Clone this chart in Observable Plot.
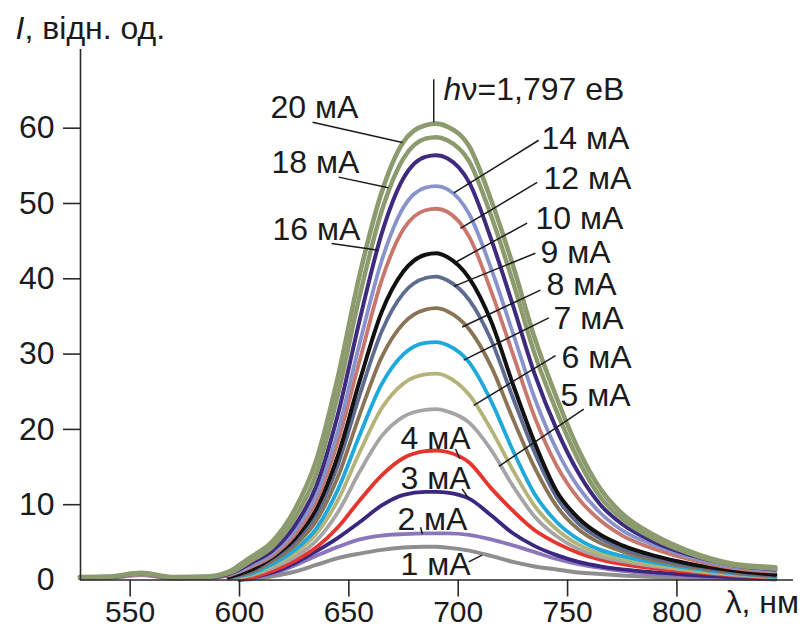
<!DOCTYPE html>
<html>
<head>
<meta charset="utf-8">
<script src="https://cdn.jsdelivr.net/npm/d3@7"></script>
<script src="https://cdn.jsdelivr.net/npm/@observablehq/plot@0.6"></script>
<style>
  html, body { margin: 0; padding: 0; background: #fff; }
  #chart svg { display: block; }
</style>
</head>
<body>
<div id="chart"></div>
<script>
// Wavelength grid, nm
const wavelength = [527, 540, 555, 570, 585, 595, 600, 605, 615, 625, 635, 645, 655, 665, 675, 685, 690, 695, 705, 715, 725, 735, 745, 755, 765, 775, 790, 805, 825, 845];

// Intensity (rel. units) for each drive current
const i20 = [0.4, 0.45, 0.95, 0.4, 0.45, 1.1, 2.0, 3.0, 5.1, 9.2, 15.8, 27.0, 40.6, 51.5, 58.2, 60.4, 60.6, 60.2, 57.6, 50.5, 41.8, 32.1, 24.2, 17.3, 12.1, 8.8, 5.9, 3.9, 2.2, 1.7];
const i18 = [0.35, 0.4, 0.9, 0.35, 0.4, 0.9, 1.6, 2.5, 4.4, 8.1, 14.0, 24.6, 37.8, 49.0, 56.0, 58.6, 58.8, 58.4, 55.6, 48.4, 39.6, 30.0, 22.4, 15.9, 11.0, 8.1, 5.4, 3.6, 2.0, 1.5];
const i16 = [0.3, 0.35, 0.85, 0.3, 0.35, 0.8, 1.4, 2.2, 3.9, 7.1, 12.4, 22.0, 34.6, 46.0, 53.4, 56.2, 56.4, 56.0, 52.8, 45.3, 36.5, 27.3, 20.0, 14.2, 10.0, 7.4, 5.0, 3.4, 2.0, 1.4];
const i14 = [0.25, 0.3, 0.75, 0.25, 0.3, 0.7, 1.2, 1.9, 3.5, 6.4, 11.2, 19.8, 31.5, 42.4, 49.5, 52.1, 52.3, 51.9, 48.6, 41.4, 32.8, 24.1, 17.3, 12.3, 8.9, 6.6, 4.6, 3.1, 1.8, 1.2];
const i12 = [0.2, 0.25, 0.65, 0.2, 0.25, 0.6, 1.1, 1.7, 3.2, 5.9, 10.4, 18.4, 29.2, 39.8, 46.6, 49.1, 49.3, 48.9, 45.6, 38.4, 30.0, 21.6, 15.2, 10.8, 7.9, 5.9, 4.1, 2.8, 1.6, 1.1];
const i10 = [null, null, null, null, null, 0.4, 0.8, 1.3, 3.0, 5.4, 9.4, 16.5, 26.5, 35.6, 41.0, 43.2, 43.4, 42.9, 40.1, 34.4, 26.0, 18.2, 11.8, 8.2, 6.0, 4.6, 3.2, 2.2, 1.3, 0.7];
const i9  = [null, null, null, null, null, 0.35, 0.7, 1.2, 2.8, 5.0, 8.7, 15.3, 24.6, 33.0, 38.1, 40.1, 40.3, 39.8, 37.2, 31.9, 24.2, 16.9, 11.0, 7.5, 5.5, 4.2, 2.9, 2.0, 1.1, 0.6];
const i8  = [null, null, null, null, null, 0.3, 0.6, 1.0, 2.5, 4.5, 7.8, 13.7, 22.0, 29.6, 34.1, 35.9, 36.1, 35.7, 33.3, 28.4, 21.4, 14.9, 9.8, 6.7, 4.9, 3.8, 2.6, 1.8, 1.0, 0.5];
const i7  = [null, null, null, null, null, 0.25, 0.5, 0.8, 2.1, 3.9, 6.8, 12.0, 19.3, 26.0, 30.0, 31.5, 31.6, 31.2, 28.9, 23.8, 17.2, 11.4, 7.7, 5.4, 4.0, 3.2, 2.3, 1.6, 0.9, 0.4];
const i6  = [null, null, null, null, null, 0.2, 0.4, 0.7, 1.9, 3.5, 6.1, 10.6, 17.0, 22.8, 26.1, 27.3, 27.4, 27.0, 24.6, 20.0, 14.6, 9.8, 6.7, 4.7, 3.5, 2.8, 2.0, 1.4, 0.8, 0.4];
const i5  = [null, null, null, null, null, 0.15, 0.3, 0.6, 1.6, 3.0, 5.2, 9.0, 14.4, 19.1, 21.7, 22.6, 22.7, 22.4, 20.9, 17.3, 12.5, 8.4, 5.8, 4.1, 3.1, 2.5, 1.8, 1.3, 0.7, 0.35];
const i4  = [null, null, null, null, null, null, 0, 0.3, 1.2, 2.5, 4.3, 7.0, 10.6, 13.9, 16.2, 17.1, 17.2, 17.0, 15.6, 12.2, 9.2, 6.6, 4.9, 3.6, 2.7, 2.1, 1.5, 1.1, 0.6, 0.3];
const i3  = [null, null, null, null, null, null, 0, 0.3, 1.0, 2.2, 3.8, 5.6, 7.7, 9.9, 11.3, 11.7, 11.7, 11.6, 10.8, 8.6, 6.2, 4.5, 3.3, 2.4, 1.8, 1.4, 1.0, 0.7, 0.4, 0.2];
const i2  = [null, null, null, null, null, null, 0, 0.25, 0.8, 1.9, 3.2, 4.4, 5.4, 5.9, 6.1, 6.2, 6.2, 6.2, 6.0, 5.4, 4.6, 3.7, 2.8, 2.1, 1.6, 1.2, 0.8, 0.5, 0.3, 0.1];
const i1  = [null, null, null, null, null, null, 0, 0.1, 0.5, 1.1, 2.0, 2.9, 3.5, 4.0, 4.3, 4.4, 4.4, 4.3, 3.9, 3.2, 2.4, 1.8, 1.4, 1.0, 0.8, 0.6, 0.4, 0.3, 0.2, 0.1];

// Drive currents, mA (drawing order: lowest first)
const currents = [1, 2, 3, 4, 5, 6, 7, 8, 9, 10, 12, 14, 16, 18, 20];
const seriesList = [i1, i2, i3, i4, i5, i6, i7, i8, i9, i10, i12, i14, i16, i18, i20];
const lineColors = ["#8e8e8e", "#8c76bb", "#3b2680", "#e5352c", "#a5a5a5", "#b4b47a", "#1ea9dc", "#8b7356", "#5d6b90", "#111111", "#c9766c", "#8893cc", "#3e2a7e", "#8c9b6e", "#8c9b6e"];
const lineWidths = [4, 3.8, 3.8, 3.8, 3.8, 3.8, 3.8, 3.8, 3.8, 4, 3.8, 3.8, 4, 4.4, 4.6];

// Labels: text anchor (wavelength, intensity) and leader line ends
const labelLambda = [673.6, 672.2, 673.6, 673.6, 746.8, 747.2, 743.6, 740.4, 737.6, 735.3, 739.0, 738.1, 615.1, 614.6, 614.2];
const labelValue  = [0.6, 6.6, 12.1, 17.4, 23.1, 28.2, 33.3, 37.8, 42.1, 46.6, 51.9, 57.3, 45.1, 54.0, 61.3];
const leaderLambda1 = [704.8, 682.8, 701.8, 698.8, 757.4, 744.5, 741.4, 737.6, 735.3, 731.5, 736.1, 736.8, 642.1, 645.3, 633.4];
const leaderValue1  = [2.4, 7.0, 12.1, 17.4, 22.7, 29.8, 34.8, 38.5, 43.4, 47.4, 52.8, 58.4, 44.7, 53.5, 60.8];
const leaderLambda2 = [710.9, 683.6, 704.8, 700.7, 718.6, 707.1, 702.5, 701.8, 698.0, 698.8, 701.0, 698.0, 663.6, 668.1, 674.5];
const leaderValue2  = [3.3, 6.1, 10.8, 16.1, 15.1, 23.2, 29.2, 33.6, 39.0, 42.2, 46.7, 51.4, 43.8, 52.1, 58.1];

// Peak marker
const peakLambda = 688.8;
const peakMarker = [60.8, 66.5];
const peakLabelLambda = 693.3;
const peakLabelValue = 63.8;

// Axes
const xTicks = [550, 600, 650, 700, 750, 800];
const yTicks = [10, 20, 30, 40, 50, 60];
const xDomain = [527.3, 853.3];
const yDomain = [0, 70.45];

const FONT = "'Liberation Sans', Arial, Helvetica, sans-serif";
const FS = 32;
const INK = "#1b1b1b";

const rows = [];
currents.forEach((c, k) => {
  seriesList[k].forEach((v, j) => {
    if (v !== null) rows.push({lambda: wavelength[j], I: v, current: c});
  });
});

const labels = currents.map((c, k) => ({
  text: c + " мА", x: labelLambda[k], y: labelValue[k],
  x1: leaderLambda1[k], y1: leaderValue1[k], x2: leaderLambda2[k], y2: leaderValue2[k]
}));

const lineMarks = currents.map((c, k) =>
  Plot.line(rows.filter(d => d.current === c), {
    x: "lambda", y: "I", stroke: lineColors[k], strokeWidth: lineWidths[k],
    curve: "monotone-x", strokeLinejoin: "round", strokeLinecap: "round"
  })
);

const chart = Plot.plot({
  width: 800,
  height: 630,
  marginLeft: 80,
  marginRight: 7,
  marginTop: 49,
  marginBottom: 50.5,
  style: {fontFamily: FONT, color: INK, background: "#fff", overflow: "visible"},
  x: {domain: xDomain},
  y: {domain: yDomain},
  marks: [
    ...lineMarks,
    Plot.ruleY([0], {stroke: "#2a2a2a", strokeWidth: 1.6}),
    Plot.ruleX([xDomain[0]], {stroke: "#2a2a2a", strokeWidth: 1.6}),
    Plot.axisX(xTicks, {tickSize: 17, tickPadding: 4, fontSize: 30, label: null, stroke: "#2a2a2a", strokeWidth: 1.6, fill: INK}),
    Plot.axisY(yTicks, {tickSize: 17, tickPadding: 9, fontSize: FS, label: null, stroke: "#2a2a2a", strokeWidth: 1.6, fill: INK}),
    Plot.axisY([0], {tickSize: 0, tickPadding: 26, fontSize: FS, label: null, fill: INK}),
    Plot.link(labels, {x1: "x1", y1: "y1", x2: "x2", y2: "y2", stroke: "#1b1b1b", strokeWidth: 1.5}),
    Plot.text(labels, {x: "x", y: "y", text: "text", textAnchor: "start", lineAnchor: "bottom", fontSize: FS, fill: INK}),
    Plot.link([peakMarker], {x1: () => peakLambda, x2: () => peakLambda, y1: d => d[0], y2: d => d[1], stroke: "#1b1b1b", strokeWidth: 1.5}),
    Plot.text(["h"], {x: () => peakLabelLambda, y: () => peakLabelValue, text: d => d, textAnchor: "start", lineAnchor: "bottom", fontSize: FS, fontStyle: "italic", fill: INK}),
    Plot.text(["ν=1,797 еВ"], {x: () => peakLabelLambda, y: () => peakLabelValue, text: d => d, dx: 18, textAnchor: "start", lineAnchor: "bottom", fontSize: FS, fill: INK}),
    Plot.text(["I"], {frameAnchor: "top-left", text: d => d, dx: -65, dy: -11, textAnchor: "start", lineAnchor: "bottom", fontSize: FS, fontStyle: "italic", fill: INK}),
    Plot.text([", відн. од."], {frameAnchor: "top-left", text: d => d, dx: -56, dy: -11, textAnchor: "start", lineAnchor: "bottom", fontSize: FS, fill: INK}),
    Plot.text(["λ, нм"], {frameAnchor: "bottom-right", text: d => d, dx: -68, dy: 32.5, textAnchor: "start", lineAnchor: "bottom", fontSize: FS, fill: INK})
  ]
});

document.getElementById("chart").appendChild(chart);
</script>
</body>
</html>
